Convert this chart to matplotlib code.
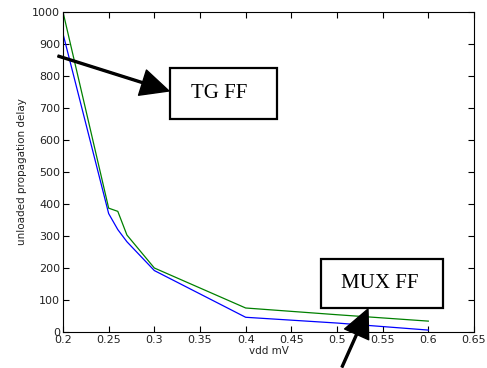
import matplotlib
matplotlib.use("Agg")
import matplotlib.pyplot as plt
from matplotlib.patches import Rectangle

# supply voltage (mV axis label as in original)
vdd_blue = [0.2, 0.25, 0.26, 0.27, 0.3, 0.4, 0.5, 0.6]
delay_blue = [932, 370, 320, 282, 192, 46, 28, 6]

vdd_green = [0.2, 0.25, 0.26, 0.27, 0.3, 0.4, 0.5, 0.6]
delay_green = [1000, 387, 377, 303, 200, 75, 54, 34]

xticks = [0.2, 0.25, 0.3, 0.35, 0.4, 0.45, 0.5, 0.55, 0.6, 0.65]
xtick_labels = ["0.2", "0.25", "0.3", "0.35", "0.4", "0.45", "0.5", "0.55", "0.6", "0.65"]
yticks = list(range(0, 1001, 100))

W, H = 487, 368
fig = plt.figure(figsize=(W / 100, H / 100), dpi=100)
fig.patch.set_facecolor("white")


def fx(px):
    return px / W


def fy(py):
    return 1 - py / H


ax = fig.add_axes([fx(63), fy(332), fx(474) - fx(63), fy(12) - fy(332)])
ax.plot(vdd_blue, delay_blue, color="#0000ff", lw=0.9)
ax.plot(vdd_green, delay_green, color="#008000", lw=0.9)

ax.set_xlim(0.2, 0.65)
ax.set_ylim(0, 1000)
ax.set_xticks(xticks)
ax.set_xticklabels(xtick_labels)
ax.set_yticks(yticks)
ax.tick_params(direction="in", top=True, right=True, length=4, width=0.8,
               labelsize=8, labelcolor="#222222", pad=2)
for s in ax.spines.values():
    s.set_linewidth(0.8)
ax.set_xlabel("vdd mV", fontsize=7.5, color="#222222", labelpad=1)
ax.set_ylabel("unloaded propagation delay", fontsize=7.5, color="#222222", labelpad=4)

# annotation boxes with big arrows
boxes = [
    ("TG FF", (170, 68, 277, 119), (219, 93)),
    ("MUX FF", (321, 259, 443, 308), (380, 283)),
]
for label, (x0, y0, x1, y1), (tx, ty) in boxes:
    fig.patches.append(Rectangle((fx(x0), fy(y1)), fx(x1) - fx(x0), fy(y0) - fy(y1),
                                 transform=fig.transFigure, facecolor="white",
                                 edgecolor="black", lw=1.6, zorder=5))
    fig.text(fx(tx), fy(ty), label, family="Liberation Serif", fontsize=15,
             ha="center", va="center", zorder=6)

arrows = [((58, 56), (169, 91)), ((342, 367), (368, 309))]
for (x0, y0), (x1, y1) in arrows:
    fig.add_artist(plt.Annotation("", xy=(fx(x1), fy(y1)), xytext=(fx(x0), fy(y0)),
                                  xycoords="figure fraction", textcoords="figure fraction",
                                  arrowprops=dict(width=1.4, headwidth=19, headlength=20,
                                                  facecolor="black", edgecolor="black",
                                                  shrink=0),
                                  zorder=7))

fig.savefig("out.png", dpi=100)
